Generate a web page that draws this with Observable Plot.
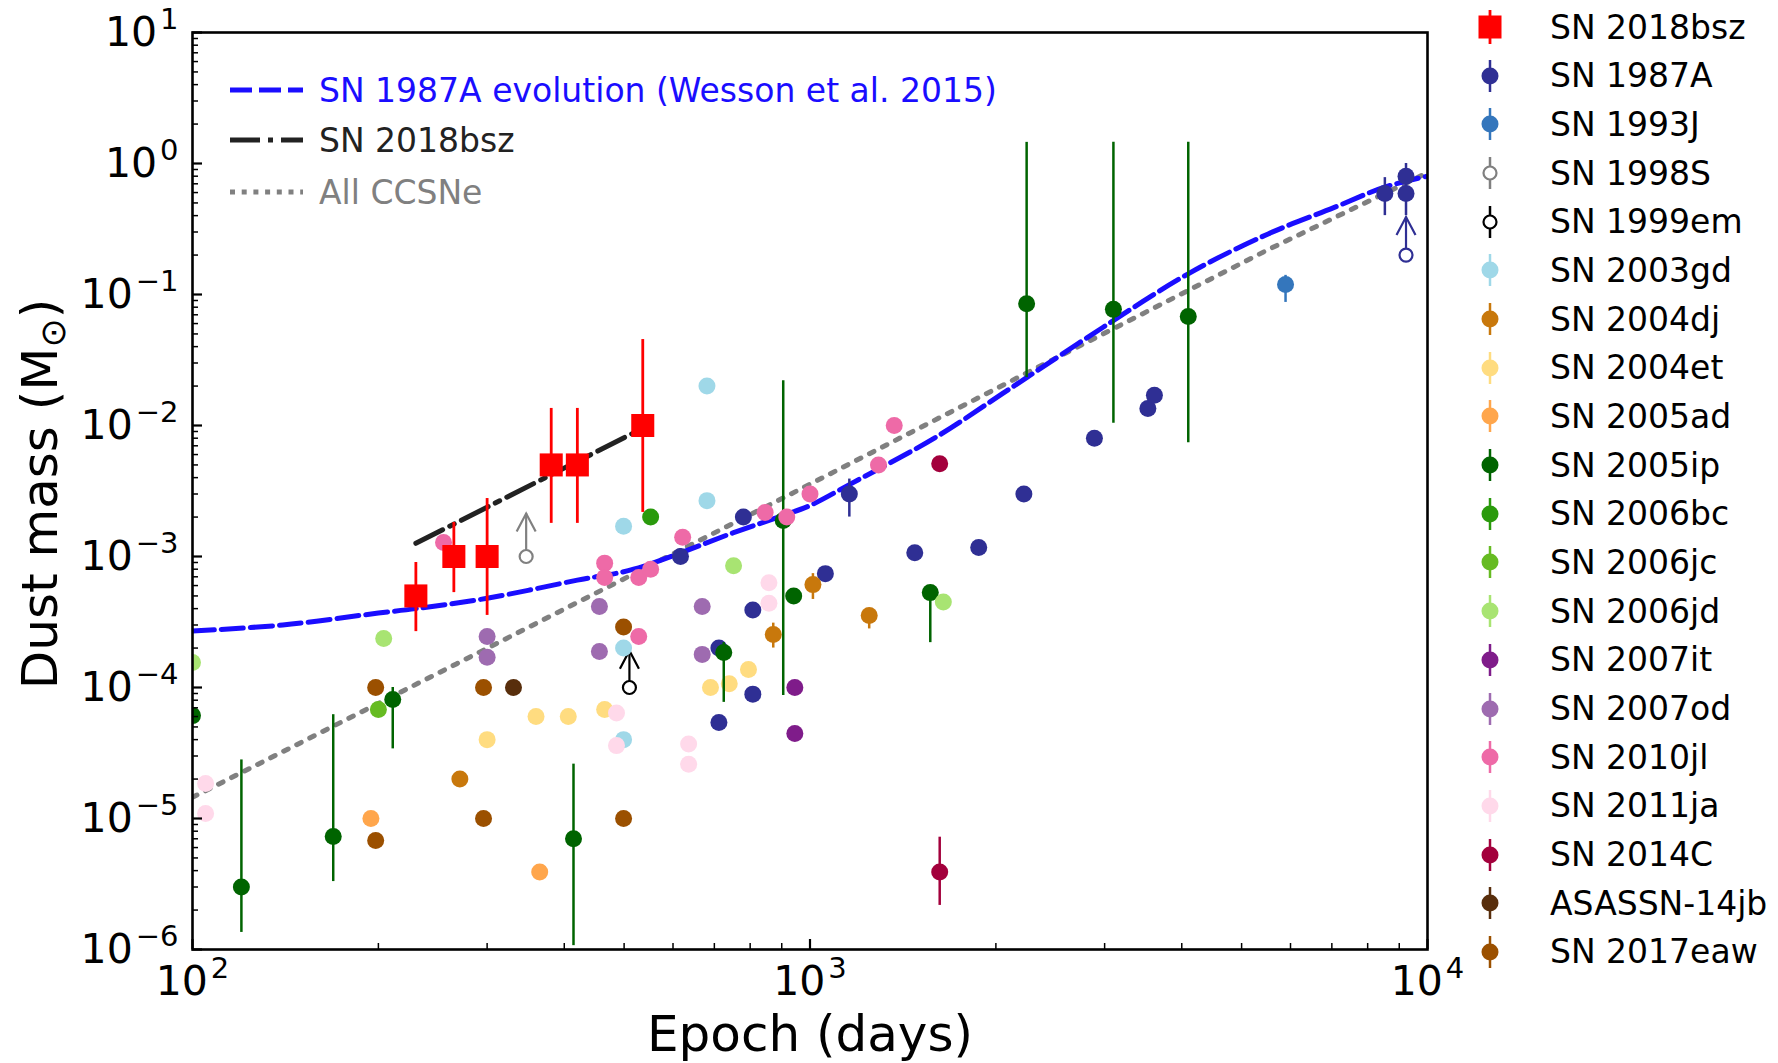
<!DOCTYPE html>
<html><head><meta charset="utf-8">
<script src="https://cdn.jsdelivr.net/npm/d3@7"></script>
<script src="https://cdn.jsdelivr.net/npm/@observablehq/plot@0.6"></script>
<style>
body{margin:0;background:#fff;font-family:"DejaVu Sans",sans-serif}
#wrap{position:relative;width:1778px;height:1063px;overflow:hidden;background:#fff}
#chart{position:absolute;left:0;top:0}
.leg{position:absolute;display:flex;align-items:center;white-space:nowrap;font-size:33px;height:40px;color:#000}
.leg svg{flex:none;overflow:visible}
</style></head>
<body><div id="wrap"><div id="chart"></div></div>
<script>
// ---------- series (legend order) ----------
const seriesNames = ["SN 2018bsz","SN 1987A","SN 1993J","SN 1998S","SN 1999em","SN 2003gd","SN 2004dj","SN 2004et","SN 2005ad","SN 2005ip","SN 2006bc","SN 2006jc","SN 2006jd","SN 2007it","SN 2007od","SN 2010jl","SN 2011ja","SN 2014C","ASASSN-14jb","SN 2017eaw"];
const seriesColors = ["#ff0000","#2f2f94","#3476bc","#808080","#000000","#9fd8e8","#c8780c","#ffdc80","#ffa64c","#006400","#2a9a0c","#66bb22","#a8e472","#7f1c8a","#9e6bb0","#ee6aa7","#ffd9ea","#a3003c","#582e0c","#9b5000"];

// rows: [epoch (days), dust mass (Msun), lower error, upper error]
const sn2018bsz = [[230,5e-4,2.67e-4,9e-4],[265,1e-3,5.3e-4,1.82e-3],[300,1e-3,3.55e-4,2.77e-3],[381,5e-3,1.79e-3,1.35e-2],[420,5e-3,1.79e-3,1.35e-2],[536,1e-2,2.17e-3,4.53e-2]];
const sn1987A = [[617,1e-3,8.7e-4,1.15e-3],[712,2e-4],[712,5.4e-5],[780,2e-3],[808,3.9e-4],[808,8.9e-5],[1059,7.4e-4],[1158,3e-3,2e-3,3.9e-3],[1478,1.07e-3],[1876,1.17e-3],[2220,3e-3],[2888,8e-3],[3525,0.0135],[3612,0.017],[8530,0.59,0.4,0.78],[9230,0.8,0.6,1.0],[9230,0.59,0.4,0.8]];
const sn1993J = [[5890,0.119,0.087,0.14]];
const sn1998S = [];
const sn1999em = [];
const sn2003gd = [[499,1.7e-3],[499,2e-4],[499,4e-5],[681,0.02],[681,2.67e-3]];
const sn2004dj = [[271,2e-5],[872,2.54e-4,2e-4,3.1e-4],[1011,6.1e-4,4.7e-4,7.4e-4],[1247,3.55e-4,2.8e-4,3.6e-4]];
const sn2004et = [[300,4e-5],[360,6e-5],[406,6e-5],[465,6.8e-5],[690,1e-4],[740,1.07e-4],[795,1.37e-4]];
const sn2005ad = [[194.5,1e-5],[365,3.9e-6]];
const sn2005ip = [[100,6.1e-5],[120,3e-6,1.35e-6,2.8e-5],[169,7.3e-6,3.3e-6,6.2e-5],[211,8.1e-5,3.4e-5,1e-4],[414,7e-6,1.07e-6,2.6e-5],[725,1.85e-4,7.7e-5,2.2e-4],[905,1.88e-3,8.7e-5,0.022],[941,5e-4],[1566,5.3e-4,2.2e-4,5.5e-4],[2243,0.085,0.0232,1.45],[3100,0.077,0.0104,1.45],[4098,0.068,7.4e-3,1.45]];
const sn2006bc = [[552,2e-3]];
const sn2006jc = [[200,6.8e-5]];
const sn2006jd = [[100,1.55e-4],[204,2.37e-4],[752,8.5e-4],[1644,4.5e-4]];
const sn2007it = [[945,1e-4],[945,4.45e-5]];
const sn2007od = [[300,2.45e-4],[300,1.7e-4],[456,4.15e-4],[456,1.88e-4],[669,4.15e-4],[669,1.79e-4]];
const sn2010jl = [[255,1.28e-3],[465,8.9e-4],[465,6.9e-4],[528,6.9e-4],[552,8e-4],[528,2.45e-4],[622,1.4e-3],[846,2.17e-3],[917,2e-3],[1000,3e-3],[1291,5e-3],[1369,0.01]];
const sn2011ja = [[105,1.85e-5],[105,1.09e-5],[486,6.4e-5],[486,3.6e-5],[636,3.7e-5],[636,2.6e-5],[858,6.3e-4],[858,4.4e-4]];
const sn2014C = [[1622,5.1e-3],[1622,3.9e-6,2.17e-6,7.2e-6]];
const asassn14jb = [[331,1e-4]];
const sn2017eaw = [[198,1e-4],[198,6.8e-6],[296,1e-4],[296,1e-5],[499,2.9e-4],[499,1e-5]];
const seriesData = [sn2018bsz,sn1987A,sn1993J,sn1998S,sn1999em,sn2003gd,sn2004dj,sn2004et,sn2005ad,sn2005ip,sn2006bc,sn2006jc,sn2006jd,sn2007it,sn2007od,sn2010jl,sn2011ja,sn2014C,asassn14jb,sn2017eaw];

// lower limits (open circles with arrows): [series index, epoch, mass, arrow tip]
const lowerLimits = [[1,9230,0.2,0.39],[3,347,1e-3,2.13e-3],[4,510,1e-4,1.91e-4]];

// ---------- model curves ----------
const evo1987Epoch = [100,140,200,230,300,420,518,752,905,1000,1166,1596,2049,2243,2979,4110,5520,7050,8520,10000];
const evo1987Mass  = [2.7e-4,3.0e-4,3.7e-4,4.0e-4,4.8e-4,6.6e-4,8.0e-4,1.52e-3,2.06e-3,2.45e-3,3.6e-3,8.1e-3,0.0175,0.0232,0.056,0.145,0.29,0.46,0.66,0.8];
const fit2018Epoch = [230,540];
const fit2018Mass  = [1.26e-3,9.7e-3];
const allCCSNeEpoch = [100,268,905,2310,5520,10000];
const allCCSNeMass  = [1.45e-5,1.52e-4,2.8e-3,0.027,0.22,0.85];
const lineNames = ["SN 1987A evolution (Wesson et al. 2015)","SN 2018bsz","All CCSNe"];

// ---------- ticks ----------
const xMajor = [100,1000,10000];
const xTickLabels = ["10^2","10^3","10^4"];
const xMinor = [200,300,400,500,600,700,800,900,2000,3000,4000,5000,6000,7000,8000,9000];
const yMajor = [1e-6,1e-5,1e-4,1e-3,1e-2,1e-1,1,10];
const yTickLabels = ["10^−6","10^−5","10^−4","10^−3","10^−2","10^−1","10^0","10^1"];
const yMinor = d3.range(-6,1).flatMap(e => d3.range(2,10).map(k => k*Math.pow(10,e)));
const xTitle = "Epoch (days)";
const yTitle = "Dust mass (M⊙)";

// ---------- build ----------
const W = 1470, H = 1063, mL = 192, mR = 43, mT = 32, mB = 114;
const innerW = W - mL - mR, innerH = H - mT - mB;
const table = seriesData.flatMap((rows, s) => rows.map(([epoch, mass, lo, hi]) => ({s, series: seriesNames[s], epoch, mass, lo, hi})));
const limits = lowerLimits.map(([s, epoch, mass, tip]) => ({s, series: seriesNames[s], epoch, mass, tip}));
const mk = (xs, ys) => xs.map((x, i) => ({x, y: ys[i]}));

const chevron = {draw(ctx, size){ const r = Math.sqrt(size/Math.PI); ctx.moveTo(-0.95*r, 1.8*r); ctx.lineTo(0,0); ctx.lineTo(0.95*r, 1.8*r); }};

const marks = [
  Plot.line(mk(allCCSNeEpoch, allCCSNeMass), {x:"x", y:"y", stroke:"#808080", strokeWidth:5, strokeDasharray:"5,9.6", clip:true}),
  Plot.line(mk(evo1987Epoch, evo1987Mass), {x:"x", y:"y", stroke:"#1a0dff", strokeWidth:5, strokeDasharray:"22,7", curve:"catmull-rom", clip:true}),
  Plot.line(mk(fit2018Epoch, fit2018Mass), {x:"x", y:"y", stroke:"#222222", strokeWidth:5, strokeDasharray:"30,8,5,8", clip:true})
];
const order = d3.range(1, seriesNames.length).concat([0]);
for (const s of order) {
  const rows = table.filter(d => d.s === s);
  const errs = rows.filter(d => d.lo != null);
  const lim = limits.filter(d => d.s === s);
  const c = seriesColors[s];
  if (lim.length) {
    marks.push(Plot.ruleX(lim, {x:"epoch", y1:"mass", y2:"tip", stroke:c, strokeWidth:2.2, clip:true}));
    marks.push(Plot.dot(lim, {x:"epoch", y:"tip", symbol:chevron, r:10, stroke:c, fill:"none", strokeWidth:2.2, clip:true}));
    marks.push(Plot.dot(lim, {x:"epoch", y:"mass", r:6.5, stroke:c, fill:"white", strokeWidth:2.2, clip:true}));
  }
  if (errs.length) marks.push(Plot.ruleX(errs, {x:"epoch", y1:"lo", y2:"hi", stroke:c, strokeWidth: s === 0 ? 2.8 : 2.5, clip:true}));
  if (rows.length) marks.push(Plot.dot(rows, s === 0
    ? {x:"epoch", y:"mass", symbol:"square", r:13, fill:c, stroke:"none", clip:true}
    : {x:"epoch", y:"mass", r:8.5, fill:c, stroke:"none", clip:true}));
}
marks.push(
  Plot.tickX(xMinor, {x:d=>d, insetTop:innerH-6, stroke:"black", strokeWidth:1.5}),
  Plot.tickX(xMajor, {x:d=>d, insetTop:innerH-10, stroke:"black", strokeWidth:2.2}),
  Plot.tickY(yMinor, {y:d=>d, insetRight:innerW-6, stroke:"black", strokeWidth:1.5}),
  Plot.tickY(yMajor, {y:d=>d, insetRight:innerW-10, stroke:"black", strokeWidth:2.2}),
  Plot.frame({stroke:"black", strokeWidth:2.6}),
  Plot.text(yMajor, {y:d=>d, text:(d,i)=>yTickLabels[i], frameAnchor:"left", dx:-14, textAnchor:"end", fontSize:41, fill:"black"}),
  Plot.text(xMajor, {x:d=>d, text:(d,i)=>xTickLabels[i], frameAnchor:"bottom", textAnchor:"middle", lineAnchor:"top", dy:16, fontSize:41, fill:"black"}),
  Plot.text([xTitle], {text:d=>d, frameAnchor:"bottom", textAnchor:"middle", lineAnchor:"top", dy:66, fontSize:50, fill:"black"}),
  Plot.text([yTitle], {text:d=>d, frameAnchor:"left", textAnchor:"middle", rotate:-90, dx:-152, dy:3, fontSize:50, fill:"black"})
);

const chart = Plot.plot({
  width: W, height: H,
  marginLeft: mL, marginRight: mR, marginTop: mT, marginBottom: mB,
  x: {type:"log", domain:[100,10000], axis:null},
  y: {type:"log", domain:[1e-6,10], axis:null},
  style: {fontFamily:"DejaVu Sans", background:"white", color:"black", overflow:"visible"},
  marks
});
chart.style.overflow = "visible";
document.getElementById("chart").append(chart);

// superscripts / subscript as real tspans
const NS = "http://www.w3.org/2000/svg";
chart.querySelectorAll("text").forEach(t => {
  const s = t.textContent;
  const m = /^10\^(.+)$/.exec(s);
  if (m) {
    t.textContent = "";
    const b = document.createElementNS(NS, "tspan"); b.textContent = "10";
    const p = document.createElementNS(NS, "tspan"); p.textContent = m[1];
    p.setAttribute("font-size", "29"); p.setAttribute("dx", "3"); p.setAttribute("dy", "-17");
    t.append(b, p);
  } else if (s === yTitle) {
    t.textContent = "";
    const a = document.createElementNS(NS, "tspan"); a.textContent = "Dust mass (M";
    const b = document.createElementNS(NS, "tspan"); b.textContent = "⊙"; b.setAttribute("font-size", "35"); b.setAttribute("dy", "8");
    const c = document.createElementNS(NS, "tspan"); c.textContent = ")"; c.setAttribute("dy", "-8");
    t.append(a, b, c);
  }
});

// ---------- legends (HTML) ----------
const wrap = document.getElementById("wrap");
function row(left, cy, svgHtml, label, color, gap) {
  const d = document.createElement("div");
  d.className = "leg";
  d.style.left = left + "px"; d.style.top = (cy - 20) + "px";
  d.innerHTML = svgHtml;
  const sp = document.createElement("span");
  sp.textContent = label; sp.style.marginLeft = gap + "px"; sp.style.color = color;
  d.append(sp);
  wrap.append(d);
}
seriesNames.forEach((n, i) => {
  const c = seriesColors[i];
  let g;
  if (i === 0) g = `<svg width="40" height="40"><line x1="20" x2="20" y1="3" y2="37" stroke="${c}" stroke-width="2.8"/><rect x="8.5" y="8.5" width="23" height="23" fill="${c}"/></svg>`;
  else if (i === 3 || i === 4) g = `<svg width="40" height="40"><line x1="20" x2="20" y1="4" y2="36" stroke="${c}" stroke-width="2.5"/><circle cx="20" cy="20" r="6.5" fill="white" stroke="${c}" stroke-width="2.2"/></svg>`;
  else g = `<svg width="40" height="40"><line x1="20" x2="20" y1="4" y2="36" stroke="${c}" stroke-width="2.5"/><circle cx="20" cy="20" r="8.5" fill="${c}"/></svg>`;
  row(1470, 27 + i * 48.68, g, n, "#000", 40);
});
const lineStyles = [
  {stroke:"#1a0dff", dash:"22,7", text:"#1a0dff", w:5},
  {stroke:"#222222", dash:"30,8,5,8", text:"#222222", w:5},
  {stroke:"#808080", dash:"5,6.7", text:"#808080", w:5}
];
lineNames.forEach((n, i) => {
  const st = lineStyles[i];
  const g = `<svg width="73" height="40"><line x1="0" x2="73" y1="20" y2="20" stroke="${st.stroke}" stroke-width="${st.w}" stroke-dasharray="${st.dash}"/></svg>`;
  row(230, [90,140,192][i], g, n, st.text, 16);
});
</script></body></html>
